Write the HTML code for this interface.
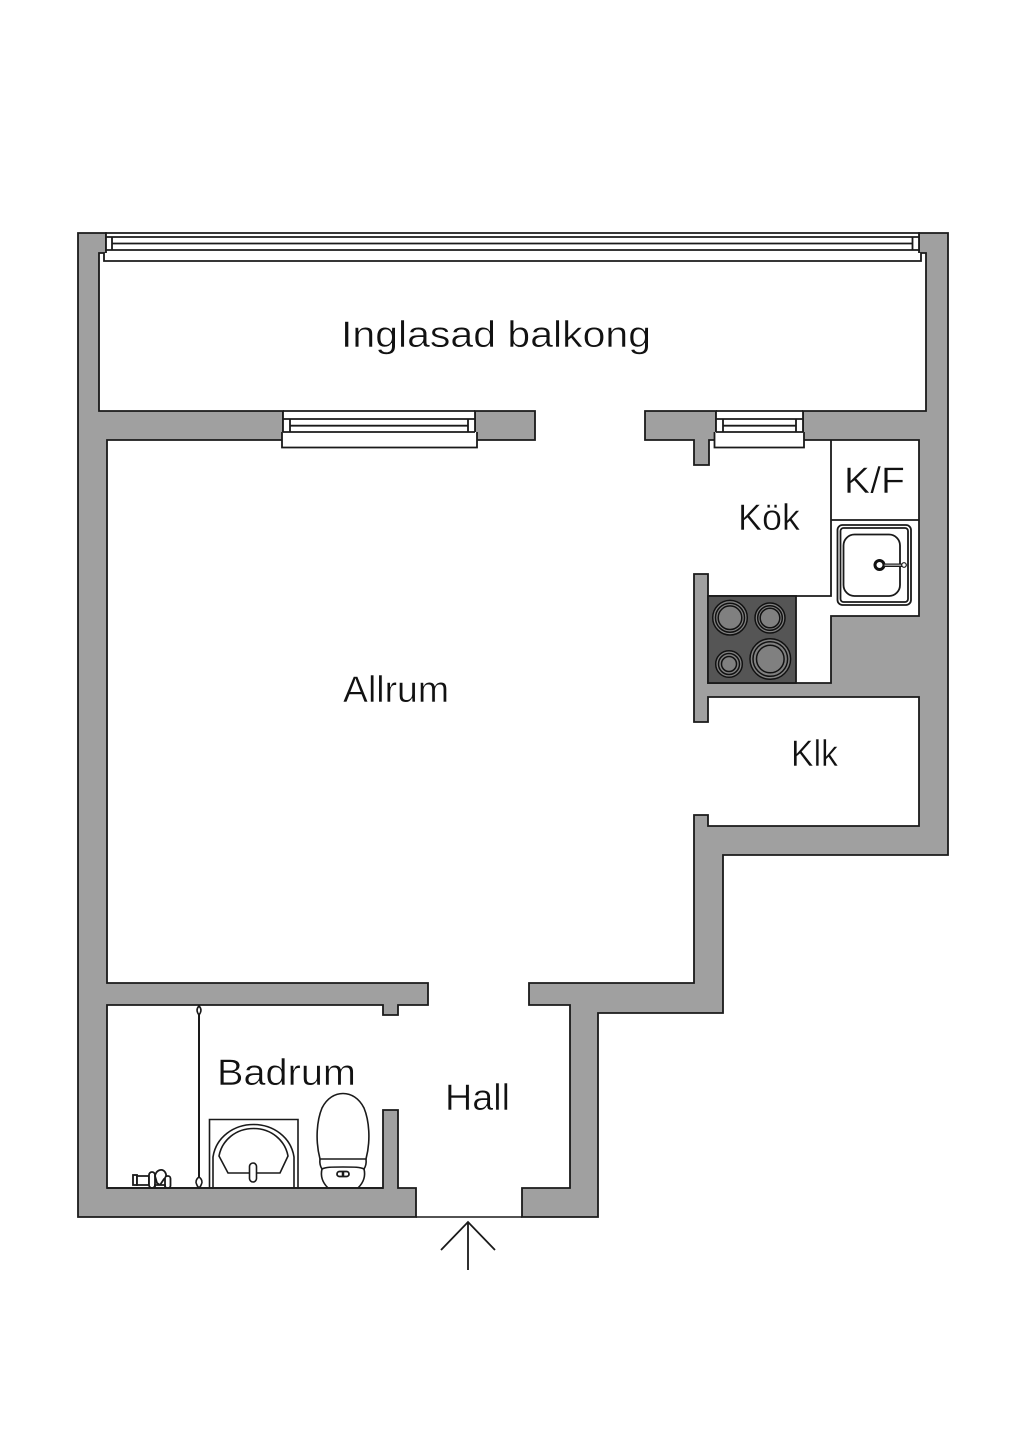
<!DOCTYPE html>
<html><head><meta charset="utf-8"><style>
html,body{margin:0;padding:0;background:#fff;width:1024px;height:1448px;overflow:hidden}
svg{display:block}
text{font-family:"Liberation Sans",sans-serif;font-size:37px;fill:#111;stroke:#fff;stroke-width:.5px;paint-order:normal}
</style></head><body>
<svg width="1024" height="1448" viewBox="0 0 1024 1448" xmlns="http://www.w3.org/2000/svg">
<rect width="1024" height="1448" fill="#fff"/>
<g fill="#a0a0a0" stroke="#1a1a1a" stroke-width="1.8" stroke-linejoin="miter">
<path d="M78 233H106V253H99V411H283V440H107V983H428V1005H398V1015H383V1005H107V1188H383V1110H398V1188H416V1217H78Z"/>
<path d="M948 233H919V253H926V411H803V440H919V616H831V683H708V574H694V722H708V697H919V826H708V815H694V983H529V1005H570V1188H522V1217H598V1013H723V855H948Z"/>
<path d="M475 411H535V440H475Z"/>
<path d="M645 411H716V440H709V465H694V440H645Z"/>
</g>
<g fill="#fff" stroke="#1a1a1a" stroke-width="1.8">
<!-- balcony window -->
<path d="M106 233H919V250H106Z"/>
<path d="M104 253V261H921V253"/>
<path d="M106 237H919" fill="none"/>
<path d="M112 237V250M912.500 237V250M112 243.500H912.500" fill="none"/>
<!-- allrum window -->
<path d="M283 411H475V440H283Z" stroke="none"/>
<path d="M283 411H475M283 411V432M475 411V432" fill="none"/>
<path d="M282 432V447.500H477V432" />
<path d="M283 419H475M283 432H475" fill="none"/>
<path d="M290 419V432M468 419V432M290 425.700H468" fill="none"/>
<!-- kitchen window -->
<path d="M716 411H803V440H716Z" stroke="none"/>
<path d="M716 411H803M716 411V432M803 411V432" fill="none"/>
<path d="M714.500 432V447.500H804V432"/>
<path d="M716 419H803M716 432H803" fill="none"/>
<path d="M723 419V432M796 419V432M723 425.700H796" fill="none"/>
</g>
<!-- door threshold -->
<path d="M416 1217H522" stroke="#1a1a1a" stroke-width="1.500" fill="none"/>
<!-- arrow -->
<path d="M441 1250L468 1222L495 1250M468 1222V1270" stroke="#1a1a1a" stroke-width="1.800" fill="none"/>
<!-- kitchen lines -->
<g fill="none" stroke="#1a1a1a" stroke-width="1.800">
<path d="M831 440V596H708"/>
<path d="M831 520H919"/>
<rect x="837.500" y="525" width="73.500" height="80" rx="5"/>
<rect x="840.500" y="528" width="67.500" height="74" rx="3"/>
<rect x="843.500" y="534.500" width="56.500" height="61.500" rx="11"/>
</g>
<circle cx="879.500" cy="565" r="4.500" fill="#fff" stroke="#111" stroke-width="3"/>
<path d="M884 564H902V566.500H884Z" fill="#999" stroke="#1a1a1a" stroke-width="1"/>
<circle cx="904" cy="565" r="2.300" fill="#fff" stroke="#1a1a1a" stroke-width="1.200"/>
<!-- stove -->
<rect x="708" y="596" width="88" height="87" fill="#555" stroke="#1a1a1a" stroke-width="1.800"/>
<g stroke="#111" stroke-width="1.500" fill="#808080">
<circle cx="730" cy="617.700" r="17.300"/><circle cx="730" cy="617.700" r="14.500"/><circle cx="730" cy="617.700" r="11.800"/>
<circle cx="770" cy="618" r="15"/><circle cx="770" cy="618" r="12.300"/><circle cx="770" cy="618" r="9.800"/>
<circle cx="729" cy="664" r="13.300"/><circle cx="729" cy="664" r="10.500"/><circle cx="729" cy="664" r="7.500"/>
<circle cx="770.300" cy="659" r="20.300"/><circle cx="770.300" cy="659" r="17.300"/><circle cx="770.300" cy="659" r="13.800"/>
</g>
<!-- bathroom -->
<g fill="none" stroke="#1a1a1a" stroke-width="1.600">
<path d="M199 1005V1177" stroke-width="2"/>
<path d="M199 1177C196 1179 195.500 1182 196.500 1184C197 1186 198 1187 199 1188C200 1187 201 1186 201.500 1184C202.500 1182 202 1179 199 1177Z" fill="#fff"/>
<path d="M199 1006C197 1008 196 1011 199 1015C202 1011 201 1008 199 1006Z" fill="#fff"/>
<path d="M209.500 1188V1119.500H298V1188"/>
<path d="M213 1188V1157C216 1137 234 1124.500 253.500 1124.500C273 1124.500 291 1137 294 1157V1188"/>
<path d="M219 1156C222 1140 236 1128.500 253.500 1128.500C271 1128.500 285 1140 288 1156L280 1173H228Z"/>
<rect x="249.500" y="1163" width="7" height="19" rx="3.500" fill="#fff"/>
<path d="M320 1159C315 1140 317 1120 322 1108C327 1098 335 1093.500 343 1093.500C351 1093.500 359 1098 364 1108C369 1120 371 1140 366 1159Z" fill="#fff"/>
<path d="M320 1159C319.500 1163 320 1166 322 1169C326 1167 331 1167 343 1167C355 1167 360 1167 364 1169C366 1166 366.500 1163 366 1159"/>
<path d="M322 1169C320 1177 323 1183 328 1188M364 1169C366 1177 363 1183 358 1188"/>
<rect x="337" y="1171.500" width="12" height="5" rx="2.500" stroke-width="1.800"/>
<path d="M343 1171.500V1176.500" stroke-width="2.500"/>
</g>
<g fill="#fff" stroke="#1a1a1a" stroke-width="1.800">
<rect x="133" y="1175" width="4" height="10"/>
<path d="M137 1176H149V1185H137Z"/>
<rect x="149" y="1172" width="6" height="16" rx="3"/>
<path d="M157 1183L155 1176C156 1170 162 1168 165 1172C167 1175 166 1178 164 1179L160 1185Z"/>
<rect x="165" y="1176" width="5.500" height="12" rx="2.500"/>
<path d="M155 1185H165V1188H155Z"/>
</g>
<path d="M107 1188H383" stroke="#1a1a1a" stroke-width="1.800" fill="none"/>
<!-- labels -->
<text x="341" y="347" textLength="310" lengthAdjust="spacingAndGlyphs">Inglasad balkong</text>
<text x="343" y="702" textLength="106" lengthAdjust="spacingAndGlyphs">Allrum</text>
<text x="738" y="530" textLength="62" lengthAdjust="spacingAndGlyphs">Kök</text>
<text x="844" y="493" textLength="61" lengthAdjust="spacingAndGlyphs">K/F</text>
<text x="791" y="766" textLength="47" lengthAdjust="spacingAndGlyphs">Klk</text>
<text x="217" y="1085" textLength="139" lengthAdjust="spacingAndGlyphs">Badrum</text>
<text x="445" y="1110" textLength="65" lengthAdjust="spacingAndGlyphs">Hall</text>
</svg>
</body></html>
